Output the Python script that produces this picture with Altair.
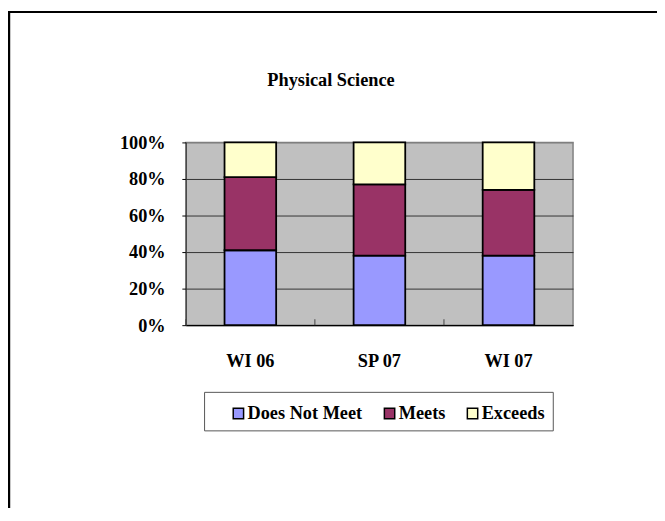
import altair as alt
import pandas as pd

terms = ["WI 06", "SP 07", "WI 07"]
levels = ["Does Not Meet", "Meets", "Exceeds"]
does_not_meet = [41, 38, 38]
meets = [40, 39, 36]
exceeds = [19, 23, 26]
colors = ["#9999FF", "#993366", "#FFFFCC"]
y_ticks = [0, 0.2, 0.4, 0.6, 0.8, 1.0]
title_text = "Physical Science"

rows = []
for i, t in enumerate(terms):
    for k, (lvl, vals) in enumerate(zip(levels, [does_not_meet, meets, exceeds])):
        rows.append({"term": t, "level": lvl, "order": k, "value": vals[i] / 100})
df = pd.DataFrame(rows)

FONT = "Liberation Serif"
W, H = 392, 185

xscale = alt.Scale(domain=terms, paddingInner=0.6, paddingOuter=0.3)

bars = alt.Chart(df).mark_bar(stroke="black", strokeWidth=1.8).encode(
    x=alt.X("term:N", sort=terms, scale=xscale,
            axis=alt.Axis(title=None, labelAngle=0, ticks=False, labelPadding=27,
                          domainColor="black", domainWidth=1.2,
                          labelFont=FONT, labelFontSize=18.5, labelFontWeight="bold",
                          labelColor="black")),
    y=alt.Y("value:Q", stack="zero", scale=alt.Scale(domain=[0, 1], nice=False),
            axis=alt.Axis(title=None, values=y_ticks, format=".0%",
                          grid=True,
                          gridColor={"condition": {"test": "datum.value >= 1", "value": "#808080"}, "value": "#333333"},
                          gridWidth=1,
                          tickSize=4, tickColor="black", labelPadding=17,
                          domainColor="#333333",
                          labelFont=FONT, labelFontSize=18.5, labelFontWeight="bold",
                          labelColor="black")),
    color=alt.Color("level:N", scale=alt.Scale(domain=levels, range=colors),
                    legend=alt.Legend(title=None, orient="none", legendX=44, legendY=265,
                                      direction="horizontal", padding=0,
                                      symbolType="square", symbolSize=110,
                                      symbolStrokeColor="black", symbolStrokeWidth=1.5,
                                      symbolOpacity=1,
                                      labelFont=FONT, labelFontSize=18.5, labelFontWeight="bold",
                                      labelColor="black", labelOffset=0, columnPadding=18)),
    order=alt.Order("order:Q"),
)

cat_ticks = alt.Chart(pd.DataFrame({"term": terms})).mark_rule(
    color="#444444", strokeWidth=1, xOffset=-W / 6
).encode(
    x=alt.X("term:N", sort=terms, scale=xscale, bandPosition=0.5),
    y=alt.value(H), y2=alt.value(H - 6),
)

blank = pd.DataFrame({"k": [0]})

legend_box = alt.Chart(blank).mark_rect(fill="white", stroke="#555555", strokeWidth=1).encode(
    x=alt.value(19), x2=alt.value(372), y=alt.value(253), y2=alt.value(292)
)

title = alt.Chart(blank).mark_text(
    text=title_text, font=FONT, fontSize=18.5, fontWeight="bold", color="black",
    align="center", baseline="alphabetic"
).encode(x=alt.value(147), y=alt.value(-57))

frame_left = alt.Chart(blank).mark_rule(color="black", strokeWidth=2.5).encode(
    x=alt.value(-179), y=alt.value(-133), y2=alt.value(400)
)
frame_top = alt.Chart(blank).mark_rule(color="black", strokeWidth=2.2).encode(
    x=alt.value(-180), x2=alt.value(500), y=alt.value(-132)
)

chart = alt.layer(bars, cat_ticks, legend_box, title, frame_left, frame_top).properties(
    width=W, height=H,
    autosize=alt.AutoSizeParams(type="none"),
    padding={"left": 180, "top": 133, "right": 85, "bottom": 182},
    background="white",
).configure_view(
    fill="#C0C0C0", stroke="#808080", strokeWidth=1.5
)

chart.save("out.html", embed_options={"renderer": "svg", "actions": False})
